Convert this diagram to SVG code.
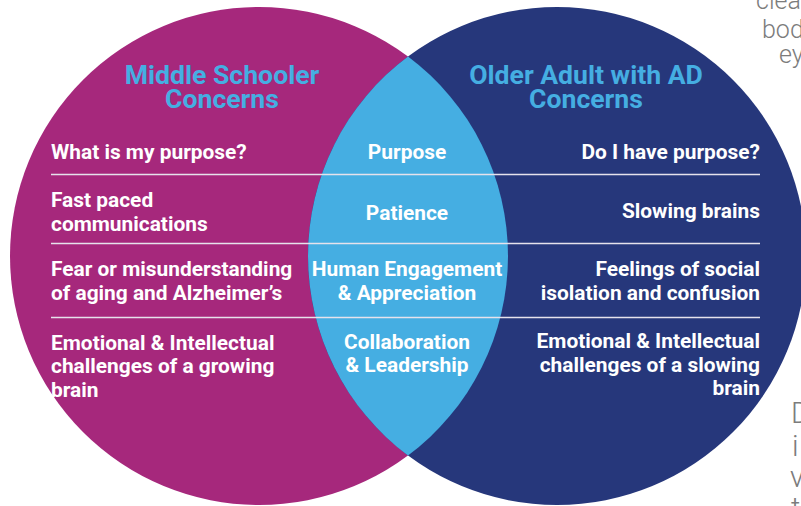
<svg xmlns="http://www.w3.org/2000/svg" width="801" height="506" viewBox="0 0 801 506">
  <style>
    .title { font-family: Roboto, "Liberation Sans", sans-serif; font-weight: 700; font-size: 26.6px; fill: #45AEE2; text-anchor: middle; }
    .item { font-family: Roboto, "Liberation Sans", sans-serif; font-weight: 700; font-size: 20.9px; fill: #FFFFFF; }
    .left { text-anchor: start; }
    .mid { text-anchor: middle; }
    .right { text-anchor: end; }
    .rule { stroke: #E6E2EC; stroke-width: 1.5; }
    .bg { font-family: Roboto, "Liberation Sans", sans-serif; font-weight: 300; fill: #7C7C7C; }
  </style>

  <rect width="801" height="506" fill="#FFFFFF"/>

  <!-- background page text running off the right edge -->
  <g id="page-text">
    <text class="bg" x="756" y="9" font-size="25">clear</text>
    <text class="bg" x="762" y="38" font-size="25">body</text>
    <text class="bg" x="779" y="63" font-size="25">eyes</text>
    <text class="bg" x="791" y="423" font-size="29">D</text>
    <text class="bg" x="792" y="456" font-size="29">i</text>
    <text class="bg" x="790" y="487" font-size="29">v</text>
    <text class="bg" x="791" y="518" font-size="29">t</text>
  </g>

  <!-- the two sets and their overlap -->
  <g id="middle-schooler">
    <circle cx="259" cy="256" r="249" fill="#A6287C"/>
  </g>
  <g id="older-adult">
    <circle cx="557" cy="256" r="249" fill="#26377B"/>
  </g>
  <g id="shared">
    <path d="M408,56.5 A249,249 0 0,1 408,455.5 A249,249 0 0,1 408,56.5 Z" fill="#45AEE2"/>
  </g>

  <!-- row separators -->
  <g id="connectors">
    <line class="rule" x1="51" y1="174.5" x2="760" y2="174.5"/>
    <line class="rule" x1="51" y1="243.5" x2="760" y2="243.5"/>
    <line class="rule" x1="51" y1="317.5" x2="760" y2="317.5"/>
  </g>

  <!-- headings -->
  <g id="heading-left">
    <text class="title" x="222" y="84">Middle Schooler</text>
    <text class="title" x="222" y="108">Concerns</text>
  </g>
  <g id="heading-right">
    <text class="title" x="586" y="84">Older Adult with AD</text>
    <text class="title" x="586" y="108">Concerns</text>
  </g>

  <!-- left column -->
  <g id="left-items">
    <text class="item left" x="51" y="159">What is my purpose?</text>
    <text class="item left" x="51" y="207">Fast paced</text>
    <text class="item left" x="51" y="231">communications</text>
    <text class="item left" x="51" y="276">Fear or misunderstanding</text>
    <text class="item left" x="51" y="300">of aging and Alzheimer’s</text>
    <text class="item left" x="51" y="350">Emotional &amp; Intellectual</text>
    <text class="item left" x="51" y="373">challenges of a growing</text>
    <text class="item left" x="51" y="397">brain</text>
  </g>

  <!-- shared column -->
  <g id="shared-items">
    <text class="item mid" x="407" y="159">Purpose</text>
    <text class="item mid" x="407" y="220">Patience</text>
    <text class="item mid" x="407" y="276">Human Engagement</text>
    <text class="item mid" x="407" y="300">&amp; Appreciation</text>
    <text class="item mid" x="407" y="349">Collaboration</text>
    <text class="item mid" x="407" y="372">&amp; Leadership</text>
  </g>

  <!-- right column -->
  <g id="right-items">
    <text class="item right" x="760" y="159">Do I have purpose?</text>
    <text class="item right" x="760" y="218">Slowing brains</text>
    <text class="item right" x="760" y="276">Feelings of social</text>
    <text class="item right" x="760" y="300">isolation and confusion</text>
    <text class="item right" x="760" y="348">Emotional &amp; Intellectual</text>
    <text class="item right" x="760" y="372">challenges of a slowing</text>
    <text class="item right" x="760" y="395">brain</text>
  </g>
</svg>
